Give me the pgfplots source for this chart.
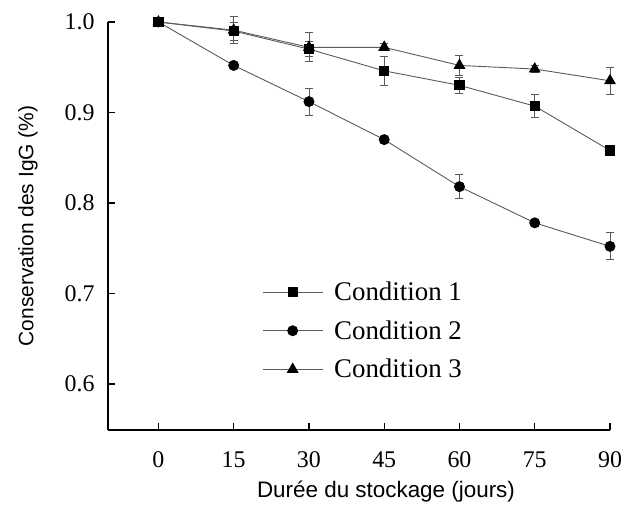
\documentclass[border=0pt]{standalone}
\usepackage{fontspec}
\setmainfont{Liberation Serif}
\setsansfont{Liberation Sans}
\usepackage{pgfplots}
\pgfplotsset{compat=1.18}
\definecolor{lgray}{HTML}{5A5A5A}
\begin{document}
\begin{tikzpicture}
\begin{axis}[
  scale only axis, width=502bp, height=408bp,
  xmin=-10.05, xmax=90, ymin=0.549, ymax=1.0,
  axis x line=bottom, axis y line=left,
  axis line style={-, line width=1.3pt, black},
  xtick={0,15,...,90}, ytick={0.6,0.7,0.8,0.9,1.0},
  tick align=inside, major tick length=7bp,
  tick style={line width=1.3pt, black},
  /pgf/number format/assume math mode=true,
  yticklabel style={/pgf/number format/fixed, /pgf/number format/fixed zerofill, /pgf/number format/precision=1},
  ticklabel style={font=\fontsize{24}{28}\selectfont},
  xticklabel style={yshift=-18bp},
  yticklabel style={xshift=-10bp},
  xlabel={\sffamily\fontsize{22.5}{26}\selectfont Durée du stockage (jours)},
  ylabel={\sffamily\fontsize{21}{25}\selectfont Conservation des IgG (\%)},
  xlabel style={yshift=-6bp, xshift=27bp},
  ylabel style={yshift=20bp},
  clip=false,
  legend style={draw=none, fill=none, at={(axis cs:20.65,0.715)}, anchor=north west,
    font=\fontsize{27}{31}\selectfont, row sep=14.5bp, inner sep=0pt,
    /tikz/every even column/.append style={column sep=0pt}},
  legend cell align=left,
  legend image code/.code={\draw[#1,mark repeat=2,mark phase=2] plot coordinates {(0bp,0bp) (30bp,0bp) (60bp,0bp)};},
  error bars/error bar style={line width=0.9pt, color=lgray},
  error bars/error mark options={rotate=90, mark size=4bp, line width=0.9pt, color=lgray},
]
\addplot[lgray, line width=0.9pt, mark=square*, mark size=4.6bp, mark options={fill=black, draw=black, solid},
  error bars/.cd, y dir=both, y explicit]
  coordinates {
  (0,1.000) +- (0,0.002)
  (15,0.990) +- (0,0.010)
  (30,0.970) +- (0,0.008)
  (45,0.946) +- (0,0.016)
  (60,0.930) +- (0,0.009)
  (75,0.907) +- (0,0.013)
  (90,0.858) +- (0,0.003)
  };
\addlegendentry{\hspace{9bp}Condition 1}
\addplot[lgray, line width=0.9pt, mark=*, mark size=5bp, mark options={fill=black, draw=black, solid},
  error bars/.cd, y dir=both, y explicit]
  coordinates {
  (0,1.000) +- (0,0.002)
  (15,0.952) +- (0,0.003)
  (30,0.912) +- (0,0.015)
  (45,0.870) +- (0,0.003)
  (60,0.818) +- (0,0.013)
  (75,0.778) +- (0,0.004)
  (90,0.752) +- (0,0.015)
  };
\addlegendentry{\hspace{9bp}Condition 2}
\addplot[lgray, line width=0.9pt, mark=triangle*, mark size=6bp, mark options={fill=black, draw=black, solid},
  error bars/.cd, y dir=both, y explicit]
  coordinates {
  (0,1.000) +- (0,0.002)
  (15,0.991) +- (0,0.015)
  (30,0.972) +- (0,0.016)
  (45,0.972) +- (0,0.004)
  (60,0.952) +- (0,0.011)
  (75,0.948) +- (0,0.004)
  (90,0.935) +- (0,0.015)
  };
\addlegendentry{\hspace{9bp}Condition 3}
\end{axis}
\path (current axis.south west) ++(-108bp,-74bp) coordinate (bbA);
\path (current axis.north east) ++(17bp,22bp) coordinate (bbB);
\path (bbA) rectangle (bbB);
\end{tikzpicture}
\end{document}
